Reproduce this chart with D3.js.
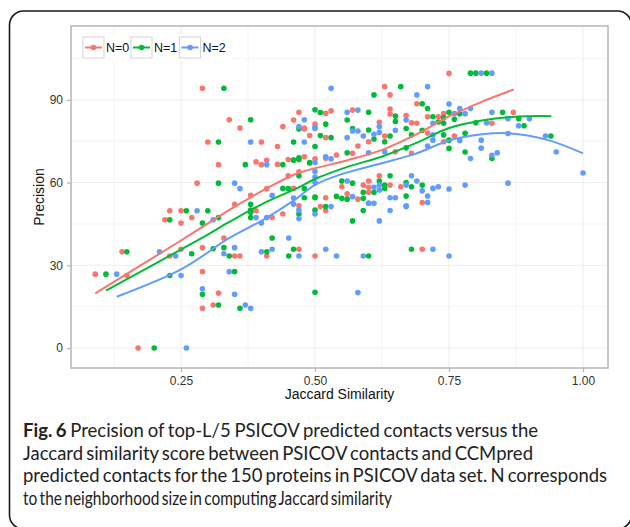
<!DOCTYPE html>
<html><head><meta charset="utf-8">
<script src="https://cdn.jsdelivr.net/npm/d3@7"></script>
<style>body{margin:0;background:#fff}svg{display:block}</style>
</head><body>
<svg id="c" width="630" height="527"></svg>
<script>
// ---------- data ----------
const seriesNames = ["N=0", "N=1", "N=2"];
const seriesColors = ["#F8766D", "#00BA38", "#619CFF"];
const xTicks = [0.25, 0.50, 0.75, 1.00];
const xTickLabels = ["0.25", "0.50", "0.75", "1.00"];
const yTicks = [0, 30, 60, 90];

const redX = [0.09,0.14,0.149,0.17,0.22,0.229,0.25,0.25,0.27,0.229,0.25,0.29,0.33,0.35,0.36,0.29,0.32,0.29,0.31,0.39,0.42,0.44,0.41,0.47,0.50,0.47,0.35,0.70,0.70,0.51,0.52,
  0.29,0.34,0.36,0.30,0.40,0.32,0.39,0.40,0.41,0.43,0.44,0.45,0.48,0.49,0.45,0.46,0.47,0.48,0.49,0.50,0.28,0.38,0.41,
  0.52,0.53,0.48,0.52,0.54,0.50,0.43,0.46,0.47,0.52,0.46,0.52,
  0.63,0.64,0.69,0.57,0.64,0.64,0.67,0.68,0.69,0.71,0.73,0.74,0.62,0.71,0.60,0.63,0.58,0.57,0.65,0.68,
  0.75,0.87,0.83,0.76,0.74,
  0.55,0.59,0.60,0.60,0.60,0.62,0.64,0.66,0.56,0.58];
const redY = [26.8,34.9,26.3,0,46.5,49.8,49.8,45.3,47.3,33.4,35.8,36.4,39.9,33.4,33.4,27.7,19.9,14.4,15.6,49.8,47.3,48.6,33.4,35.8,33.4,51.6,52.1,35.8,52.8,51.3,49.9,
  94.2,82.8,79.8,74.7,74.7,66.5,67.5,66.5,68.1,73.1,80.3,68.4,69.4,67,62.5,82.7,85.5,79.8,77.1,81.2,59.8,55.4,57.8,
  85.1,86,79.4,76.3,70,68.6,66.6,68.3,63.9,68.8,57.9,54.5,
  94.8,91.8,88.6,86.3,86.7,84.9,84.3,81.7,81.5,83.9,83.9,85,81.9,78,74.8,76.9,73.3,70.6,71.2,70.6,
  99.6,85.5,81.5,76.9,74.8,
  58.5,59.1,60.6,58.3,56.5,62.5,59.1,58.5,55.9,54];

const greenX = [0.11,0.149,0.20,0.229,0.26,0.30,0.29,0.32,0.27,0.31,0.33,0.34,0.229,0.35,0.29,0.32,0.36,0.38,0.38,0.41,0.42,0.46,0.451,0.50,0.47,0.57,0.59,0.68,0.60,0.52,0.60,
  0.33,0.38,0.32,0.37,0.44,0.46,0.47,0.47,0.46,0.50,0.50,0.32,0.45,0.48,0.50,
  0.51,0.47,0.52,0.51,0.53,0.47,0.49,0.38,0.44,0.48,0.50,0.54,0.50,0.38,
  0.66,0.61,0.70,0.60,0.56,0.65,0.65,0.72,0.73,0.67,0.68,0.70,0.61,0.63,0.64,0.57,0.60,0.56,0.67,0.74,
  0.79,0.80,0.82,0.71,0.75,0.85,0.88,0.89,0.94,0.83,0.78,0.78,0.77,0.74,0.76,0.74,0.80,0.75,0.75,
  0.55,0.57,0.61,0.62,0.63,0.63,0.64,0.67,0.68,0.70,0.67,0.55,0.56,0.59,0.59];
const greenY = [26.8,34.9,0,46.5,49.8,49.8,45.3,47.3,34.2,36,36.4,33.4,26.3,27.7,19.5,15.6,14.4,49.2,47.3,34.9,39.9,35.8,33.4,20.2,48.6,46.1,49.9,35.8,33.4,51.3,52.5,
  94.2,82.8,74.7,66.5,66.5,68.1,68.4,62.5,74.7,86.4,73.1,59.8,57.8,57.8,54.8,
  85.4,79.4,81.2,77.1,76.3,69,67.3,52.1,57.9,54.5,54.5,55,50,50,
  94.8,91.8,88.6,85.5,82.7,84.1,82.2,83.9,82,79.6,77.3,79,75.8,74.8,76.9,79.6,79.1,70.8,72.6,77.3,
  99.7,99.7,99.7,86.9,85.5,85.5,83.2,80.6,76.9,68.7,71.1,77.9,85,83.5,83,81.5,81.7,75.4,72.4,
  60.6,59.8,56.5,60.6,59.1,57.9,62.5,60,58.5,59.1,55.1,54.3,54,56.5,54.3];

const blueX = [0.13,0.26,0.21,0.28,0.31,0.24,0.33,0.35,0.25,0.34,0.29,0.35,0.37,0.38,0.39,0.40,0.41,0.40,0.42,0.451,0.47,0.46,0.47,0.50,0.52,0.54,0.59,0.72,0.75,0.58,0.62,0.64,0.67,0.71,0.53,0.61,
  0.38,0.41,0.47,0.48,0.48,0.50,0.35,0.36,0.42,0.46,
  0.53,0.50,0.52,0.53,0.50,0.50,0.50,0.50,0.47,
  0.71,0.69,0.56,0.58,0.67,0.72,0.62,0.62,0.65,0.72,0.57,0.58,0.59,0.56,0.60,0.63,0.71,0.72,0.61,
  0.81,0.83,0.75,0.77,0.79,0.76,0.78,0.83,0.86,0.90,0.88,0.93,0.95,1.00,0.86,0.86,0.83,0.84,0.79,0.81,0.81,0.77,0.82,
  0.56,0.61,0.62,0.62,0.67,0.68,0.69,0.70,0.72,0.73,0.71,0.67,0.64,0.65,0.57,0.60,0.75,0.78];
const blueY = [26.8,0,34.9,49.8,46.5,33.4,34.2,36.4,26.3,27.7,21.5,19.5,15.6,14.4,47.3,45.3,47.3,34.9,35.8,39.9,33.4,52.2,47,48.6,35.8,33.4,33.4,35.8,33.4,20.1,46.1,49.9,51.6,52.8,51.3,52.5,
  74.7,66.5,80.3,82.8,74.7,80,59.8,57.8,55.4,54.4,
  94.2,79.6,69.4,68.6,67.3,64,62,60,50,
  94.8,91.8,85.5,86.3,82.7,81.5,80.3,78.2,79,77.3,78.7,78.7,76.9,76.3,70.8,71.2,73.3,75.4,77.5,
  99.7,99.7,88.5,86.9,86.9,85,85,85.5,83.2,83.2,80.6,76.9,71.1,63.5,59.8,77.8,69.9,70.8,68.7,72.5,75.4,75.3,81.7,
  60.6,58.3,59.1,57.3,59.1,62.5,60.6,57,57.9,58.5,55.1,51.3,54.5,54.5,54.9,52.5,57.7,59.1];

// smoothed (loess) curves
const redCurveX = [0.09,0.25,0.348,0.41,0.466,0.5,0.562,0.624,0.687,0.749,0.811,0.871];
const redCurveY = [19.8,39.0,51.0,57.9,63.3,65.2,68.2,71.8,77.3,83.9,89.3,93.8];
const greenCurveX = [0.11,0.285,0.341,0.404,0.466,0.5,0.562,0.624,0.687,0.749,0.811,0.873,0.941];
const greenCurveY = [20.8,39.5,45.8,52.5,57.9,61.3,65.8,69.4,74.2,79.7,82.5,83.9,84.1];
const blueCurveX = [0.13,0.25,0.341,0.404,0.466,0.5,0.547,0.624,0.687,0.749,0.811,0.861,0.935,1.0];
const blueCurveY = [18.6,28.5,40.0,46.6,54.3,59.2,62.9,67.0,70.4,75.2,77.5,77.9,75.4,70.6];

const captionLines = [
  ["Fig. 6", " Precision of top-L/5 PSICOV predicted contacts versus the"],
  ["", "Jaccard similarity score between PSICOV contacts and CCMpred"],
  ["", "predicted  contacts for the 150 proteins in PSICOV data set. N corresponds"],
  ["", "to the neighborhood size in computing Jaccard similarity"]
];

// ---------- drawing ----------
const AX_FONT = "Liberation Sans";
const CAP_FONT = "Lato";
const svg = d3.select("#c");
const P = {l:71, r:608, t:26, b:368};
const x = d3.scaleLinear().domain([0.04478, 1.0466]).range([P.l, P.r]);
const y = d3.scaleLinear().domain([-7.25, 116.8]).range([P.b, P.t]);

// outer frame
svg.append("rect").attr("x",9.5).attr("y",11).attr("width",622).attr("height",518)
  .attr("rx",14).attr("fill","none").attr("stroke","#1a1a1a").attr("stroke-width",1.6);

// panel
svg.append("rect").attr("x",P.l).attr("y",P.t).attr("width",P.r-P.l).attr("height",P.b-P.t).attr("fill","#fff");
const g = svg.append("g");
const xMinor = [0.125,0.375,0.625,0.875];
const yMinor = [15,45,75,105];
g.selectAll(".xm").data(xMinor).enter().append("line")
  .attr("x1",d=>x(d)).attr("x2",d=>x(d)).attr("y1",P.t).attr("y2",P.b).attr("stroke","#f4f4f4").attr("stroke-width",1);
g.selectAll(".ym").data(yMinor).enter().append("line")
  .attr("y1",d=>y(d)).attr("y2",d=>y(d)).attr("x1",P.l).attr("x2",P.r).attr("stroke","#f4f4f4").attr("stroke-width",1);
g.selectAll(".xg").data(xTicks).enter().append("line")
  .attr("x1",d=>x(d)).attr("x2",d=>x(d)).attr("y1",P.t).attr("y2",P.b).attr("stroke","#ededed").attr("stroke-width",1);
g.selectAll(".yg").data(yTicks).enter().append("line")
  .attr("y1",d=>y(d)).attr("y2",d=>y(d)).attr("x1",P.l).attr("x2",P.r).attr("stroke","#ededed").attr("stroke-width",1);

// points
const sets = [[redX,redY],[greenX,greenY],[blueX,blueY]];
sets.forEach((s,i)=>{
  const pts = s[0].map((v,k)=>[v,s[1][k]]);
  svg.append("g").selectAll("circle").data(pts).enter().append("circle")
    .attr("cx",d=>x(d[0])).attr("cy",d=>y(d[1])).attr("r",2.8).attr("fill",seriesColors[i]);
});

// smooth lines
const curves = [[redCurveX,redCurveY],[greenCurveX,greenCurveY],[blueCurveX,blueCurveY]];
const line = d3.line().x(d=>x(d[0])).y(d=>y(d[1])).curve(d3.curveCatmullRom.alpha(0.5));
curves.forEach((c,i)=>{
  svg.append("path").datum(c[0].map((v,k)=>[v,c[1][k]]))
    .attr("d",line).attr("fill","none").attr("stroke",seriesColors[i]).attr("stroke-width",2);
});

// panel border
svg.append("rect").attr("x",P.l).attr("y",P.t).attr("width",P.r-P.l).attr("height",P.b-P.t)
  .attr("fill","none").attr("stroke","#b5b5b5").attr("stroke-width",1.5);

// axes
const xAxis = d3.axisBottom(x).tickValues(xTicks).tickFormat((d,i)=>xTickLabels[i]).tickSize(4).tickPadding(4);
const yAxis = d3.axisLeft(y).tickValues(yTicks).tickSize(4).tickPadding(4);
const gx = svg.append("g").attr("transform",`translate(0,${P.b})`).call(xAxis);
const gy = svg.append("g").attr("transform",`translate(${P.l},0)`).call(yAxis);
[gx,gy].forEach(a=>{
  a.attr("font-family",AX_FONT).attr("font-size",12);
  a.select(".domain").remove();
  a.selectAll(".tick line").attr("stroke","#b5b5b5").attr("stroke-width",1.2);
  a.selectAll(".tick text").attr("fill","#333");
});

svg.append("text").attr("font-family",AX_FONT).attr("font-size",14).attr("x",(P.l+P.r)/2).attr("y",399).attr("text-anchor","middle")
  .attr("fill","#111").text("Jaccard Similarity");
svg.append("text").attr("font-family",AX_FONT).attr("font-size",14).attr("transform",`translate(44,${(P.t+P.b)/2}) rotate(-90)`).attr("text-anchor","middle")
  .attr("fill","#111").text("Precision");

// legend
const lg = svg.append("g");
lg.append("rect").attr("x",80).attr("y",35).attr("width",150).attr("height",25).attr("fill","#fff");
const keyX = [83, 131, 179.5];
seriesNames.forEach((n,i)=>{
  const kx = keyX[i];
  lg.append("rect").attr("x",kx).attr("y",37).attr("width",21).attr("height",21)
    .attr("fill","#fff").attr("stroke","#d4d4d4").attr("stroke-width",1);
  lg.append("line").attr("x1",kx+2).attr("x2",kx+19).attr("y1",47.5).attr("y2",47.5)
    .attr("stroke",seriesColors[i]).attr("stroke-width",2);
  lg.append("circle").attr("cx",kx+10.5).attr("cy",47.5).attr("r",2.8).attr("fill",seriesColors[i]);
  lg.append("text").attr("font-family",AX_FONT).attr("font-size",12.5).attr("x",kx+23).attr("y",52)
    .attr("fill","#111").text(n);
});

// caption: tighten word spacing first (tight setting), then fit exactly
const capBase = [437, 459.5, 482, 504.5];
const capLen = [515, 510, 584, 369];
captionLines.forEach((ln,i)=>{
  const t = svg.append("text").attr("font-family",CAP_FONT).attr("font-size",18.5).attr("x",23).attr("y",capBase[i])
    .attr("fill","#222");
  if (ln[0]) t.append("tspan").attr("font-weight","bold").text(ln[0]);
  t.append("tspan").text(ln[1]);
  const node = t.node();
  const w0 = node.getComputedTextLength();
  const nSp = (ln[0] + ln[1]).split(" ").length - 1;
  if (w0 > capLen[i] && nSp > 0) {
    const ws = Math.max(-2.0, (capLen[i] - w0) / nSp);
    t.style("word-spacing", ws + "px");
  }
  const w1 = node.getComputedTextLength();
  if (Math.abs(w1 - capLen[i]) > 1) {
    t.attr("textLength", capLen[i]).attr("lengthAdjust", "spacingAndGlyphs");
  }
});
</script>
</body></html>
